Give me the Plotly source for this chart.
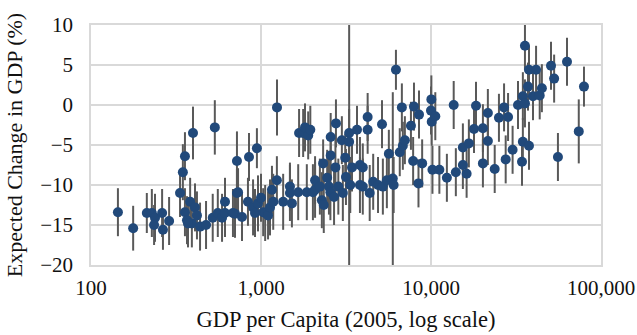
import plotly.graph_objects as go

gdp = [144, 177, 213, 228, 238, 235, 262, 265, 288, 334, 347, 357, 398, 535, 357, 367, 383, 392, 409, 420,
       372, 438, 475, 520, 557, 590, 614, 614, 703, 684, 773, 722, 733, 722, 850, 946, 1242, 838, 898, 922,
       960, 1000, 1030, 1058, 1100, 1130, 1160, 1180, 1240, 1350, 1480, 1480, 1520, 1655, 1675, 1770, 1815, 1895, 1950, 1860,
       2020, 2080, 2080, 2220, 2280, 2340, 2320, 2450, 2510, 2560, 2570, 2570, 2690, 2740, 2760, 2850, 2990, 3030, 3160, 3130,
       3300, 3300, 3350, 3430, 3670, 3820, 3820, 3970, 3970, 4240, 4240, 4360, 4570, 4880, 5150, 5210, 5500, 5650, 5960, 6220,
       6550, 6830, 7020, 6740, 6030, 7620, 7850, 7940, 8440, 8500, 8870, 10000, 10050, 10100, 10600, 10200, 11200, 12400, 13600, 14000,
       15400, 15400, 16200, 16700, 17900, 18400, 20200, 20200, 21600, 21600, 23700, 25100, 26900, 28400, 27500, 30200, 32500, 34300, 34700, 34700,
       35700, 35700, 37200, 37700, 37700, 39800, 41500, 43600, 44900, 50800, 53000, 55800, 63100, 74000, 79400]

change = [-13.4, -15.4, -13.5, -13.5, -14.1, -15.0, -13.5, -15.6, -14.5, -11.0, -8.4, -6.4, -3.5, -2.8, -13.4, -14.4, -12.1, -14.8, -12.8, -13.8,
          -14.8, -15.2, -15.0, -14.1, -13.5, -14.1, -12.1, -13.5, -13.6, -13.5, -14.0, -11.0, -10.9, -7.0, -6.5, -5.4, -0.3, -12.1, -12.8, -13.5,
          -12.3, -11.6, -13.4, -13.5, -13.8, -12.8, -10.6, -12.1, -9.4, -12.1, -10.2, -11.0, -12.3, -10.9, -3.5, -3.5, -2.8, -3.8, -3.1, -10.9,
          -10.9, -9.4, -10.6, -10.2, -11.9, -12.5, -7.3, -9.1, -10.2, -10.9, -6.3, -4.0, -11.5, -7.8, -2.3, -10.2, -4.4, -11.0, -9.0, -6.6,
          -3.5, -4.6, -10.0, -7.8, -3.1, -7.5, -10.0, -7.8, -10.2, -1.5, -3.1, -11.0, -9.6, -10.0, -2.4, -10.2, -9.4, -6.1, -9.2, 4.4,
          -5.9, -5.1, -4.4, -0.3, -10.0, -2.6, -7.0, -0.2, -9.8, -1.2, -7.3, -0.7, 0.7, -2.1, -1.4, -8.1, -8.1, -9.1, 0.0, -8.4,
          -5.3, -7.5, -8.6, -4.8, -3.0, -0.1, -2.9, -7.3, -1.0, -4.5, -8.0, -1.6, -0.3, -1.5, -6.8, -5.6, 0.0, -7.1, -4.6, 1.1,
          0.2, 7.4, 2.3, 4.4, -5.1, 1.1, 4.4, 1.2, 2.1, 4.9, 3.3, -6.5, 5.4, -3.3, 2.3]

error = [3.0, 2.8, 2.5, 3.0, 3.0, 2.5, 3.0, 2.5, 3.0, 3.0, 3.5, 3.0, 3.3, 3.4, 3.0, 3.0, 3.0, 3.0, 3.0, 3.0,
         3.0, 3.0, 3.0, 3.0, 3.0, 3.0, 3.0, 3.0, 3.0, 3.0, 3.0, 3.0, 3.0, 3.7, 3.0, 2.5, 3.5, 3.0, 3.5, 3.0,
         3.5, 3.0, 3.0, 3.5, 3.0, 3.5, 3.0, 3.5, 3.0, 3.5, 3.0, 3.5, 3.0, 3.5, 3.0, 3.0, 3.0, 3.0, 3.0, 3.5,
         3.5, 3.0, 3.5, 3.5, 3.5, 3.5, 3.0, 3.5, 3.5, 3.5, 3.0, 3.0, 3.5, 3.5, 3.0, 3.5, 3.0, 3.5, 3.5, 3.0,
         3.0, 15.5, 3.5, 3.0, 3.0, 3.5, 3.5, 3.0, 3.5, 3.0, 3.0, 3.5, 3.5, 3.5, 3.0, 3.5, 3.5, 3.0, 10.8, 2.5,
         3.0, 3.0, 3.0, 3.0, 3.5, 3.0, 3.0, 3.0, 3.0, 3.0, 3.0, 3.0, 3.0, 3.0, 3.0, 3.0, 3.0, 3.0, 3.0, 3.0,
         3.0, 3.0, 3.0, 3.0, 3.0, 3.0, 3.0, 3.0, 3.0, 3.0, 3.0, 3.0, 3.0, 3.0, 3.0, 3.0, 3.0, 3.0, 3.0, 3.0,
         3.0, 3.0, 3.0, 3.0, 3.0, 3.0, 3.0, 3.0, 3.0, 3.0, 3.0, 3.0, 3.0, 4.0, 2.5]

x_ticks = [100, 1000, 10000, 100000]
x_tick_labels = ["100", "1,000", "10,000", "100,000"]
y_ticks = [-20, -15, -10, -5, 0, 5, 10]

FONT = "Liberation Serif, DejaVu Serif, serif"
GRID = "#d9d9d9"
TXT = "#111111"

fig = go.Figure(go.Scatter(
    x=gdp, y=change, mode="markers",
    marker=dict(color="#21497a", size=10, line=dict(width=0)),
    error_y=dict(type="data", array=error, visible=True, color="#595959", thickness=2, width=0),
    cliponaxis=True, hoverinfo="skip",
))

fig.update_layout(
    width=637, height=335,
    margin=dict(l=91, r=36, t=25, b=70),
    paper_bgcolor="white", plot_bgcolor="white",
    font=dict(family=FONT, size=21, color=TXT),
    showlegend=False,
    xaxis=dict(type="log", range=[2, 5], tickvals=x_ticks, ticktext=x_tick_labels,
               tickfont=dict(family=FONT, size=21, color=TXT),
               showgrid=True, gridcolor=GRID, gridwidth=1.5, zeroline=False,
               showline=True, linecolor=GRID, linewidth=1.5, mirror=True, ticks="",
               automargin=False, ticklabelstandoff=3,
               title=dict(text="GDP per Capita (2005, log scale)",
                          font=dict(family=FONT, size=22.5, color=TXT), standoff=12)),
    yaxis=dict(range=[-20, 10], tickvals=y_ticks,
               tickfont=dict(family=FONT, size=21, color=TXT),
               showgrid=True, gridcolor=GRID, gridwidth=1.5,
               zeroline=False, showline=True, linecolor=GRID, linewidth=1.5, mirror=True, ticks="",
               automargin=False, ticklabelstandoff=12,
               title=dict(text="Expected Change in GDP (%)",
                          font=dict(family=FONT, size=22, color=TXT), standoff=12)),
)

fig.write_html("out.html", config={"displayModeBar": False},
               post_script="document.body.style.margin='0px';")
